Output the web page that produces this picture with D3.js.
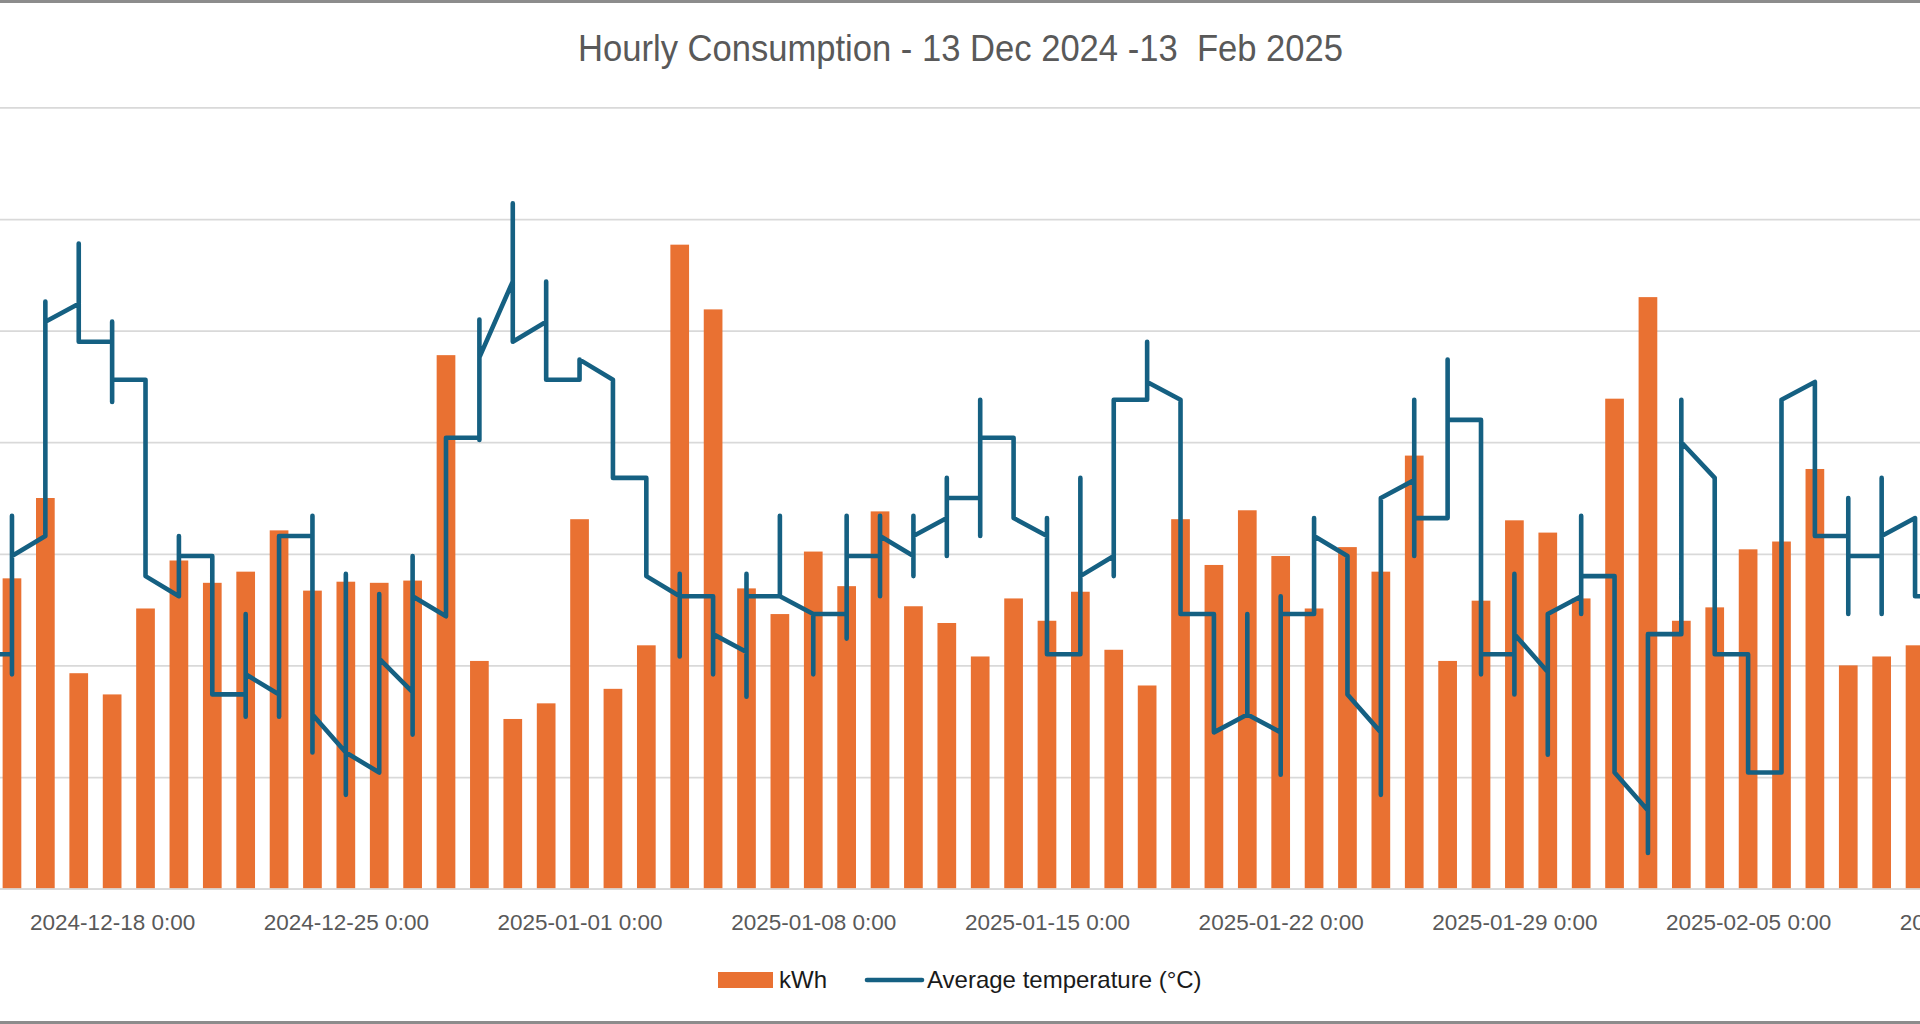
<!DOCTYPE html>
<html>
<head>
<meta charset="utf-8">
<script src="https://cdn.jsdelivr.net/npm/d3@7"></script>
<style>
  html, body { margin: 0; padding: 0; background: #fff; overflow: hidden; }
  svg { display: block; overflow: hidden; }
  text { font-family: "Liberation Sans", Arial, sans-serif; }
</style>
</head>
<body>
<script>
const width = 1920;
const height = 1024;

// days shown on the date axis
const days = [
  '2024-12-14','2024-12-15','2024-12-16','2024-12-17','2024-12-18','2024-12-19',
  '2024-12-20','2024-12-21','2024-12-22','2024-12-23','2024-12-24','2024-12-25',
  '2024-12-26','2024-12-27','2024-12-28','2024-12-29','2024-12-30','2024-12-31',
  '2025-01-01','2025-01-02','2025-01-03','2025-01-04','2025-01-05','2025-01-06',
  '2025-01-07','2025-01-08','2025-01-09','2025-01-10','2025-01-11','2025-01-12',
  '2025-01-13','2025-01-14','2025-01-15','2025-01-16','2025-01-17','2025-01-18',
  '2025-01-19','2025-01-20','2025-01-21','2025-01-22','2025-01-23','2025-01-24',
  '2025-01-25','2025-01-26','2025-01-27','2025-01-28','2025-01-29','2025-01-30',
  '2025-01-31','2025-02-01','2025-02-02','2025-02-03','2025-02-04','2025-02-05',
  '2025-02-06','2025-02-07','2025-02-08','2025-02-09','2025-02-10','2025-02-11'
];

// tallest hourly kWh bar of each day
const kwh = [
  2.6, 2.78, 3.50, 1.93, 1.74, 2.51, 2.94, 2.74, 2.84, 3.21, 2.67, 2.75,
  2.74, 2.76, 4.78, 2.04, 1.52, 1.66,
  3.31, 1.79, 2.18, 5.77, 5.19, 2.69, 2.46, 3.02, 2.71, 3.38, 2.53, 2.38,
  2.08, 2.60, 2.40, 2.66, 2.14, 1.82, 3.31, 2.90, 3.39, 2.98, 2.51, 3.06,
  2.84, 3.88, 2.04, 2.58, 3.30, 3.19, 2.60,
  4.39, 5.30, 2.40, 2.52, 3.04, 3.11, 3.76, 2.00, 2.08, 2.18, 2.4
];

// hourly temperatures collapse onto the day: first, highest, lowest, last reading
const tempFirst = [
  -13, -14.5, -9.2, 1.2, -0.5, -2.2, -11.9, -10.1, -16.3, -16.3, -9.2, -18.9,
  -19.8, -16.2, -12.8, -4.8, 2.2, 0.4,
  -2.2, -2.2, -6.6, -11.9, -11.9, -14.4, -11.9, -12.7, -12.7, -10.1, -10.1, -8.4,
  -7.5, -4.8, -9.2, -14.5, -10.1, -3.1, -3.1, -12.7, -17.2, -18.0, -12.7, -10.1,
  -18.0, -6.7, -8.4, -4.0, -14.5, -15.3, -11.9,
  -11.0, -21.5, -13.6, -6.6, -14.5, -19.8, -2.3, -9.2, -10.1, -8.4, -11.9
];
const tempHigh = [
  -11.5, -8.3, 1.3, 3.9, 0.4, -2.2, -9.2, -10.1, -12.7, -9.2, -8.3, -10.9,
  -11.8, -10.1, -4.8, 0.5, 5.7, 2.2,
  -1.3, -2.2, -6.6, -10.9, -11.9, -10.9, -8.3, -12.7, -8.3, -8.3, -8.3, -6.6,
  -3.1, -4.8, -8.4, -6.6, -3.1, -0.5, -3.1, -12.7, -12.7, -11.9, -8.4, -10.1,
  -7.5, -3.1, -1.3, -4.0, -10.9, -12.7, -8.3,
  -11.0, -13.6, -3.1, -6.6, -14.5, -3.1, -2.3, -7.5, -6.6, -8.4, -10
];
const tempLow = [
  -15, -15.4, -9.2, -0.5, -3.2, -11.0, -11.9, -16.3, -17.3, -17.3, -18.9, -20.8,
  -19.8, -18.1, -12.8, -4.9, -0.5, -2.2,
  -2.2, -6.6, -11.0, -14.6, -15.4, -16.4, -11.9, -15.4, -13.8, -11.9, -11.0, -10.1,
  -9.2, -8.4, -14.5, -14.5, -11.0, -3.1, -12.7, -18.0, -17.2, -19.9, -12.7, -16.3,
  -20.8, -10.1, -8.4, -15.4, -16.3, -19.0, -12.7,
  -19.8, -23.4, -13.6, -14.5, -19.8, -19.8, -9.2, -12.7, -12.7, -11.9, -13
];
const tempLast = [
  -14.5, -10.1, 0.4, -0.5, -2.2, -11.0, -10.1, -16.3, -15.4, -9.2, -17.2, -18.9,
  -14.7, -11.9, -4.8, -1.2, -0.5, -2.2,
  -1.3, -6.6, -11.0, -11.9, -13.6, -11.9, -11.9, -12.7, -10.1, -9.2, -9.2, -7.5,
  -4.8, -8.4, -14.5, -11.0, -3.1, -2.3, -12.7, -18.0, -17.2, -12.7, -9.2, -16.3,
  -7.5, -8.4, -4.0, -14.5, -13.6, -12.7, -11.0,
  -19.8, -13.6, -5.0, -14.5, -19.8, -3.1, -9.2, -10.1, -9.2, -11.9, -11
];

const weekTicks = ['2024-12-18','2024-12-25','2025-01-01','2025-01-08','2025-01-15',
                   '2025-01-22','2025-01-29','2025-02-05','2025-02-12'];

const title = 'Hourly Consumption - 13 Dec 2024 -13  Feb 2025';

const parse = d3.timeParse('%Y-%m-%d');
const dates = days.map(parse);

// the plot area is wider than the picture, both value axes sit past the edges
const plotLeft = -71.5;
const plotRight = 2031.9;
const plotTop = 107.4;
const plotBottom = 888.6;

const x = d3.scaleTime()
  .domain([d3.timeHour.offset(parse('2024-12-13'), -12), d3.timeHour.offset(parse('2025-02-13'), 12)])
  .range([plotLeft, plotRight]);

const yK = d3.scaleLinear().domain([0, 7]).range([plotBottom, plotTop]);
const yT = d3.scaleLinear().domain([-25, 10]).range([plotBottom, plotTop]);

const dayW = x(parse('2025-01-02')) - x(parse('2025-01-01'));
const barW = dayW * 0.56;

const svg = d3.select('body')
  .append('svg')
  .attr('width', width)
  .attr('height', height);

svg.append('rect')
  .attr('width', width)
  .attr('height', height)
  .attr('fill', '#fff');

// gridlines from the kWh axis
const gridAxis = d3.axisLeft(yK)
  .ticks(7)
  .tickSize(-(plotRight - plotLeft))
  .tickFormat(d => d);

svg.append('g')
  .attr('transform', `translate(${plotLeft},0)`)
  .call(gridAxis)
  .call(g => g.select('.domain').remove())
  .call(g => g.selectAll('line').attr('stroke', '#d9d9d9').attr('stroke-width', 1.75))
  .call(g => g.selectAll('text').attr('fill', '#595959').style('font-size', '22px'));

// temperature axis on the right, off the picture
svg.append('g')
  .attr('transform', `translate(${plotRight},0)`)
  .call(d3.axisRight(yT).ticks(7).tickSize(0))
  .call(g => g.select('.domain').remove())
  .call(g => g.selectAll('text').attr('fill', '#595959').style('font-size', '22px'));

// bars
svg.append('g')
  .selectAll('rect')
  .data(kwh)
  .enter()
  .append('rect')
  .attr('x', (d, i) => x(dates[i]) - barW / 2)
  .attr('y', d => yK(d))
  .attr('width', barW)
  .attr('height', d => yK(0) - yK(d))
  .attr('fill', '#e97132');

// x axis
const xAxis = d3.axisBottom(x)
  .tickValues(weekTicks.map(parse))
  .tickSize(0)
  .tickPadding(25)
  .tickFormat(d3.timeFormat('%Y-%m-%d %-H:%M'));

svg.append('g')
  .attr('transform', `translate(0,${plotBottom})`)
  .call(xAxis)
  .call(g => g.select('.domain').attr('stroke', '#d9d9d9').attr('stroke-width', 1.75))
  .call(g => g.selectAll('text')
    .attr('fill', '#595959')
    .style('font-size', '22.5px')
    .style('font-family', '"Liberation Sans", Arial, sans-serif'));

// temperature line: all readings of a day land on that day's position
const tempPoints = [];
dates.forEach((d, i) => {
  tempPoints.push([d, tempFirst[i]]);
  tempPoints.push([d, tempHigh[i]]);
  tempPoints.push([d, tempLow[i]]);
  tempPoints.push([d, tempLast[i]]);
});

const line = d3.line()
  .x(d => x(d[0]))
  .y(d => yT(d[1]));

svg.append('path')
  .datum(tempPoints)
  .attr('d', line)
  .attr('fill', 'none')
  .attr('stroke', '#156082')
  .attr('stroke-width', 4.6)
  .attr('stroke-linejoin', 'round')
  .attr('stroke-linecap', 'round');

// title
svg.append('text')
  .text(title)
  .attr('x', 960.5)
  .attr('y', 61)
  .attr('text-anchor', 'middle')
  .attr('textLength', 765)
  .attr('lengthAdjust', 'spacingAndGlyphs')
  .style('white-space', 'pre')
  .style('font-family', '"Liberation Sans Narrow", "Liberation Sans", Arial, sans-serif')
  .style('font-size', '36px')
  .attr('fill', '#595959');

// legend
const legend = svg.append('g');
legend.append('rect')
  .attr('x', 718)
  .attr('y', 972)
  .attr('width', 55)
  .attr('height', 16)
  .attr('fill', '#e97132');
legend.append('text')
  .text('kWh')
  .attr('x', 779)
  .attr('y', 988)
  .style('font-size', '24px')
  .attr('fill', '#1a1a1a');
legend.append('line')
  .attr('x1', 867)
  .attr('x2', 922)
  .attr('y1', 980)
  .attr('y2', 980)
  .attr('stroke', '#156082')
  .attr('stroke-width', 4.6)
  .attr('stroke-linecap', 'round');
legend.append('text')
  .text('Average temperature (°C)')
  .attr('x', 927)
  .attr('y', 988)
  .style('font-size', '24px')
  .attr('fill', '#1a1a1a');

// chart border, only top and bottom edges are in the picture
svg.append('rect')
  .attr('x', -10)
  .attr('y', 1.5)
  .attr('width', width + 20)
  .attr('height', height - 3)
  .attr('fill', 'none')
  .attr('stroke', '#8c8c8c')
  .attr('stroke-width', 3);
</script>
</body>
</html>
